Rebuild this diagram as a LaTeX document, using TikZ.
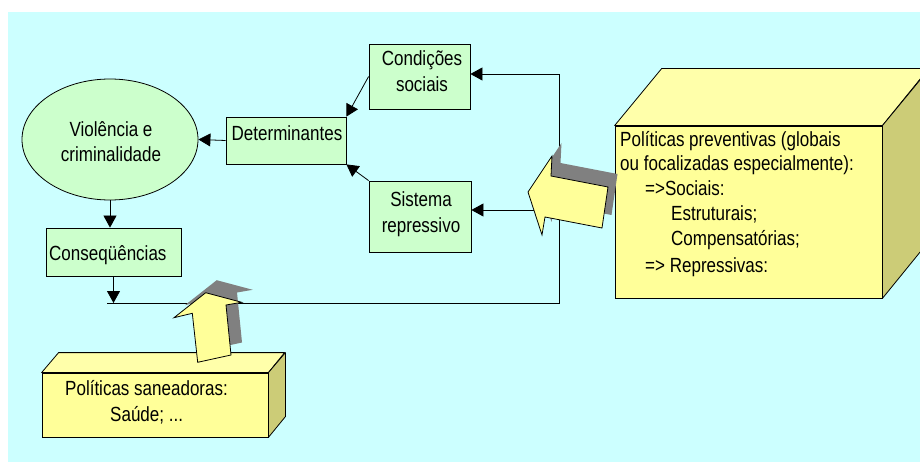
\documentclass[tikz,border=0pt]{standalone}
\usepackage{fontspec}
\setmainfont{Liberation Sans}[FakeStretch=0.83]
\usetikzlibrary{arrows.meta,shapes.geometric}
\definecolor{bgcyan}{HTML}{CCFFFF}
\definecolor{boxgreen}{HTML}{CCFFCC}
\definecolor{boxyellow}{HTML}{FFFF99}
\definecolor{topyellow}{HTML}{FFFFAA}
\definecolor{sideolive}{HTML}{CCCC77}
\definecolor{shadowgray}{HTML}{808080}
\begin{document}
\begin{tikzpicture}[x=1pt,y=-1pt,
  font=\fontsize{20.5}{25}\selectfont,
  box/.style={draw=black,line width=0.8pt,fill=boxgreen,inner sep=0pt},
  ybox/.style={draw=black,line width=0.8pt,fill=boxyellow,inner sep=0pt},
  face/.style={draw=black,line width=0.8pt,line join=round},
  txt/.style={inner sep=0pt,anchor=base},
  ltxt/.style={inner sep=0pt,anchor=base west},
  arr/.style={line width=0.8pt,-{Triangle[length=12pt,width=13pt]}},
  ln/.style={line width=0.8pt},
  bigarrow/.style={fill=boxyellow,draw=black,line width=0.8pt},
  shadowfill/.style={fill=shadowgray}
  ]
\useasboundingbox (0,0) rectangle (920,462);
\fill[bgcyan] (8,12) rectangle (920,462);

% green nodes
\node[box,ellipse,minimum width=176pt,minimum height=121pt] (ell) at (110,139.5) {};
\node[box,minimum width=120pt,minimum height=47pt] (det) at (286,140.5) {};
\node[box,minimum width=101pt,minimum height=65pt] (cond) at (419.5,76.5) {};
\node[box,minimum width=102pt,minimum height=71pt] (sis) at (420,216.5) {};
\node[box,minimum width=135pt,minimum height=48pt] (cons) at (113.5,252) {};

\node[txt] (tv1) at (111,137) {Violência e};
\node[txt] (tv2) at (111,162) {criminalidade};
\node[txt] (tc1) at (422,66) {Condições};
\node[txt] (tc2) at (422,92) {sociais};
\node[txt] (ts1) at (421,207) {Sistema};
\node[txt] (ts2) at (421,233) {repressivo};
\node[txt] (td) at (287,141) {Determinantes};
\node[ltxt] (tq) at (49,261) {Conseqüências};

% connectors
\coordinate (j0) at (107,303);
\coordinate (j1) at (559,303);
\coordinate (j2) at (559,74);
\coordinate (j3) at (559,210);

\draw[arr] (det.west) -- (ell.east);
\draw[arr] (cond.west) -- (det.north east);
\draw[arr] (sis.north west) -- (det.south east);
\draw[arr] (ell.south) -- (ell.south |- cons.north);
\draw[arr] (cons.south) -- (cons.south |- j0);
\draw[ln] (j0) -- (j1) -- (j2);
\draw[arr] (j2) -- (j2 -| cond.east);
\draw[arr] (j3) -- (j3 -| sis.east);

% big 3D box
\begin{scope}
\clip (0,0) rectangle (920,462);
\node[ybox,minimum width=267pt,minimum height=172pt] (prev) at (748.5,212) {};
\filldraw[face,fill=topyellow] (prev.north west) -- ++(47,-57) -- ++(267,0) -- (prev.north east) -- cycle;
\filldraw[face,fill=sideolive] (prev.north east) -- ++(47,-57) -- ++(0,172) -- (prev.south east) -- cycle;
\end{scope}
\node[ltxt] (p1) at (620,147) {Políticas preventivas (globais};
\node[ltxt] (p2) at (620,171) {ou focalizadas especialmente):};
\node[ltxt] (p3) at (645,196) {=>Sociais:};
\node[ltxt] (p4) at (671,221) {Estruturais;};
\node[ltxt] (p5) at (671,246) {Compensatórias;};
\node[ltxt] (p6) at (645,272) {=> Repressivas:};

% small 3D box
\node[ybox,minimum width=226pt,minimum height=64pt] (san) at (155,405) {};
\filldraw[face,fill=topyellow] (san.north west) -- ++(17,-20) -- ++(226,0) -- (san.north east) -- cycle;
\filldraw[face,fill=sideolive] (san.north east) -- ++(17,-20) -- ++(0,64) -- (san.south east) -- cycle;
\node[ltxt] (s1) at (65,395) {Políticas saneadoras:};
\node[ltxt] (s2) at (110,421.5) {Saúde; ...};

% up arrow with shadow
\begin{scope}[shift={(11,-12.5)}]
\fill[shadowfill] (205.7,292.7) -- (241.7,302.3) -- (226,305) -- (231,355) -- (197.7,362.3) -- (192.3,313.3) -- (174,317.7) -- cycle;
\end{scope}
\filldraw[bigarrow] (205.7,292.7) -- (241.7,302.3) -- (226,305) -- (231,355) -- (197.7,362.3) -- (192.3,313.3) -- (174,317.7) -- cycle;

% left arrow with shadow
\begin{scope}[shift={(9.5,-13)}]
\fill[shadowfill] (528,192) -- (552,156) -- (551,176) -- (608,187) -- (602,228) -- (545,217) -- (542,235) -- cycle;
\end{scope}
\filldraw[bigarrow] (528,192) -- (552,156) -- (551,176) -- (608,187) -- (602,228) -- (545,217) -- (542,235) -- cycle;
\end{tikzpicture}
\end{document}
